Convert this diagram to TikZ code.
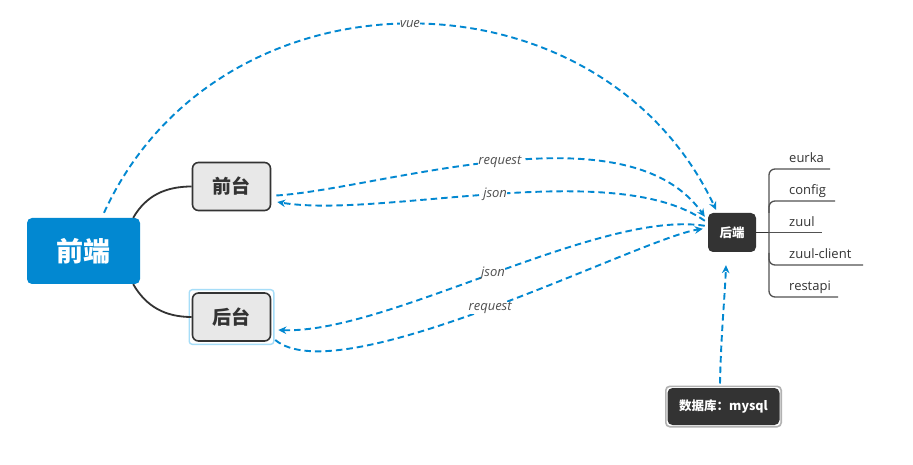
\documentclass[tikz,border=0pt]{standalone}
\usepackage{fontspec}
\setmainfont{Open Sans}
\newfontfamily\cjk{Noto Sans CJK SC}
\usetikzlibrary{arrows.meta,fit}
\definecolor{cblue}{HTML}{0288D1}
\definecolor{cdark}{HTML}{333333}
\definecolor{cgray}{HTML}{E8E8E8}
\definecolor{chl}{HTML}{A6DDF8}
\definecolor{ctext}{HTML}{505050}
\begin{document}
\begin{tikzpicture}[x=1pt,y=1pt,
  rootbox/.style={fill=cblue, rounded corners=5pt, minimum width=113pt, minimum height=66pt, text=white, font=\cjk\bfseries\fontsize{27}{27}\selectfont, inner sep=0pt},
  subbox/.style={fill=cgray, draw=cdark, line width=1.6pt, rounded corners=6pt, minimum width=78pt, minimum height=48pt, text=cdark, font=\cjk\bfseries\fontsize{19}{19}\selectfont, inner sep=0pt},
  darkbox/.style={fill=cdark, rounded corners=5pt, text=white, font=\cjk\bfseries\fontsize{12.5}{12.5}\selectfont, inner sep=0pt},
  branch/.style={draw=cdark, line width=1.8pt},
  flow/.style={draw=cblue, line width=1.9pt, dash pattern=on 6.5pt off 4pt, -{Stealth[length=8pt,width=7.5pt]}},
  lbl/.style={font=\itshape\fontsize{13}{13}\selectfont, text=ctext, fill=white, inner sep=0.5pt},
  item/.style={font=\fontsize{13}{13}\selectfont, text=cdark, anchor=base west, inner sep=0pt},
  tree/.style={draw=cdark!85, line width=1.3pt, rounded corners=6pt}
]
\fill[white] (0,0) rectangle (913,464);
\useasboundingbox (0,0) rectangle (913,464);

% nodes
\node[rootbox] (qd) at (83.5,213) {前端};
\node[subbox] (qt) at (231.5,277.5) {前台};
\node[subbox] (ht) at (231.5,147) {后台};
\node[draw=chl, line width=1.4pt, rounded corners=3pt, fit=(ht), inner sep=2.5pt] (htsel) {};
\node[darkbox, minimum width=48pt, minimum height=39pt] (hd) at (732,231.5) {后端};
\node[darkbox, minimum width=112pt, minimum height=37pt] (db) at (723.5,57.5) {数据库：mysql};
\node[draw=gray!60, line width=1.6pt, rounded corners=4pt, fit=(db), inner sep=1.5pt] (dbframe) {};

% list items
\node[item] (i1) at (789,301) {eurka};
\node[item] (i2) at (789,269) {config};
\node[item] (i3) at (789,237.5) {zuul};
\node[item] (i4) at (789,205) {zuul-client};
\node[item] (i5) at (789,173) {restapi};

% tree lines
\draw[branch, line width=1.3pt] (hd.east) -- (769,231.5);
\draw[tree] (830,295) -- (769,295) -- (769,167) -- (838,167);
\draw[tree] (769,251) -- (769,263) -- (835,263);
\draw[tree] (769,211) -- (769,199) -- (863,199);
\draw[tree] (769,231.5) -- (822,231.5);

% branches
\draw[branch] ([xshift=-7pt]qd.north east) to[out=60,in=180] (qt.west);
\draw[branch] ([xshift=-7pt]qd.south east) to[out=-60,in=180] (ht.west);

% dashed flows
\draw[flow] ([xshift=20.5pt,yshift=5pt]qd.north) .. controls (220,504) and (600,501) .. ([xshift=-16pt,yshift=3pt]hd.north) node[lbl,pos=0.5] {vue};
\draw[flow] ([xshift=5pt,yshift=-9pt]qt.east) .. controls (380,275) and (626,359) .. ([xshift=-3pt,yshift=-4pt]hd.north west) node[lbl,pos=0.5] {request};
\draw[flow] ([xshift=-3pt,yshift=-8pt]hd.north west) .. controls (613,307) and (380,245) .. ([xshift=6pt,yshift=-15.5pt]qt.east) node[lbl,pos=0.5] {json};
\draw[flow] ([xshift=-3pt,yshift=-13pt]hd.north west) .. controls (600,255) and (387,130) .. ([xshift=7pt,yshift=-13pt]ht.east) node[lbl,pos=0.5] {json};
\draw[flow] ([xshift=4pt,yshift=-23pt]ht.east) .. controls (340,70) and (641,226) .. ([xshift=-5pt,yshift=-16pt]hd.north west) node[lbl,pos=0.5] {request};
\draw[flow] ([xshift=-3.5pt,yshift=2pt]dbframe.north) .. controls (721,130) and (725,170) .. ([xshift=-6pt,yshift=-13pt]hd.south);
\end{tikzpicture}
\end{document}
